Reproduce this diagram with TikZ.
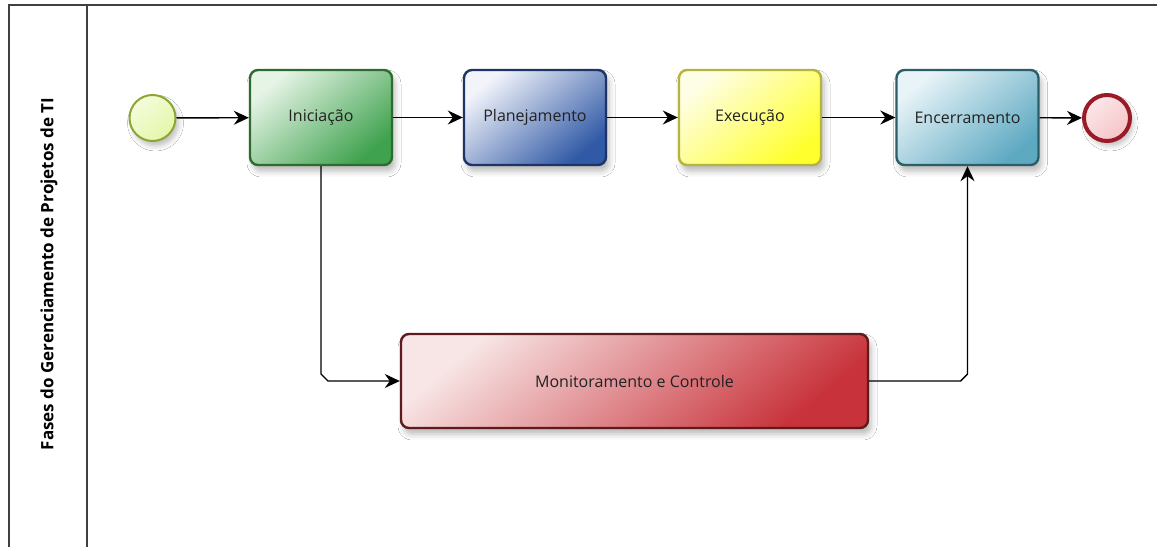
\documentclass[tikz,border=0pt]{standalone}
\usepackage{fontspec}
\setmainfont{Open Sans}
\usetikzlibrary{arrows.meta,calc,shadows.blur}

\definecolor{txt}{HTML}{222222}
\definecolor{frameC}{HTML}{404040}
\definecolor{iniB}{HTML}{2E6B30}\definecolor{iniF}{HTML}{3FA24E}\definecolor{iniL}{HTML}{E6F4E6}
\definecolor{plaB}{HTML}{1E3466}\definecolor{plaF}{HTML}{3059A6}\definecolor{plaL}{HTML}{F2F4FA}
\definecolor{exeB}{HTML}{B4B43E}\definecolor{exeF}{HTML}{FFFF2E}\definecolor{exeL}{HTML}{FEFEE6}
\definecolor{encB}{HTML}{2C5E68}\definecolor{encF}{HTML}{5EA9C2}\definecolor{encL}{HTML}{E8F4F8}
\definecolor{monB}{HTML}{5E1A1C}\definecolor{monF}{HTML}{C8323A}\definecolor{monL}{HTML}{F8E6E6}
\definecolor{staB}{HTML}{8CA534}\definecolor{staF}{HTML}{E4F7A8}
\definecolor{endB}{HTML}{9A1A28}\definecolor{endF}{HTML}{F6C4C8}

\tikzset{
  task/.style n args={3}{rectangle, rounded corners=8pt, draw=#1, line width=2.4pt,
    top color=#3, middle color=#2!40!#3, bottom color=#2, shading angle=40,
    minimum width=142pt, minimum height=95pt, text=txt, font=\fontsize{16}{19}\selectfont,
    blur shadow={shadow xshift=3pt, shadow yshift=-6pt, shadow blur radius=6pt, shadow opacity=28}},
  startev/.style={circle, draw=staB, line width=2pt, inner sep=0pt, minimum size=46pt,
    top color=staF!40!white, bottom color=staF, shading angle=40,
    blur shadow={shadow xshift=3pt, shadow yshift=-5pt, shadow blur radius=5pt, shadow opacity=25}},
  endev/.style={circle, draw=endB, line width=4pt, inner sep=0pt, minimum size=46pt,
    top color=endF!40!white, bottom color=endF, shading angle=40,
    blur shadow={shadow xshift=3pt, shadow yshift=-5pt, shadow blur radius=5pt, shadow opacity=25}},
  flow/.style={draw=black, line width=1.4pt, -{Stealth[length=15pt, width=14pt, inset=5pt]}},
  lanerule/.style={draw=frameC, line width=2pt},
  lanelabel/.style={rotate=90, font=\fontsize{17}{20}\selectfont\bfseries, text=black}
}

\begin{document}
\begin{tikzpicture}[x=1pt,y=1pt]
  \useasboundingbox (0,0) rectangle (1157,547);
  \fill[white] (0,0) rectangle (1157,547);

  % pool frame and lane header
  \draw[lanerule] (9,0) -- (9,542) -- (1157,542);
  \draw[lanerule] (87,0) -- (87,542);
  \node[lanelabel] (lane) at (49,273) {Fases do Gerenciamento de Projetos de TI};

  % events and tasks
  \node[startev] (start) at (152.5,429) {};
  \node[task={iniB}{iniF}{iniL}] (ini) at (321,429.5) {Iniciação};
  \node[task={plaB}{plaF}{plaL}] (pla) at (535,429.5) {Planejamento};
  \node[task={exeB}{exeF}{exeL}] (exe) at (750,429.5) {Execução};
  \node[task={encB}{encF}{encL}] (enc) at (967.5,429.5) {Encerramento};
  \node[endev] (fim) at (1107,429) {};
  \node[task={monB}{monF}{monL}, minimum width=467pt, minimum height=94pt] (mon) at (634.5,166) {Monitoramento e Controle};

  % sequence flows
  \draw[flow] (start) -- (ini);
  \draw[flow] (ini) -- (pla);
  \draw[flow] (pla) -- (exe);
  \draw[flow] (exe) -- (enc);
  \draw[flow] (enc) -- (fim);

  \coordinate (c1) at (ini.south |- mon.west);
  \draw[flow] (ini.south) -- ($(c1)+(0,7)$) -- ($(c1)+(7,0)$) -- (mon.west);

  \coordinate (c2) at (enc.south |- mon.east);
  \draw[flow] (mon.east) -- ($(c2)+(-7,0)$) -- ($(c2)+(0,7)$) -- (enc.south);
\end{tikzpicture}
\end{document}
